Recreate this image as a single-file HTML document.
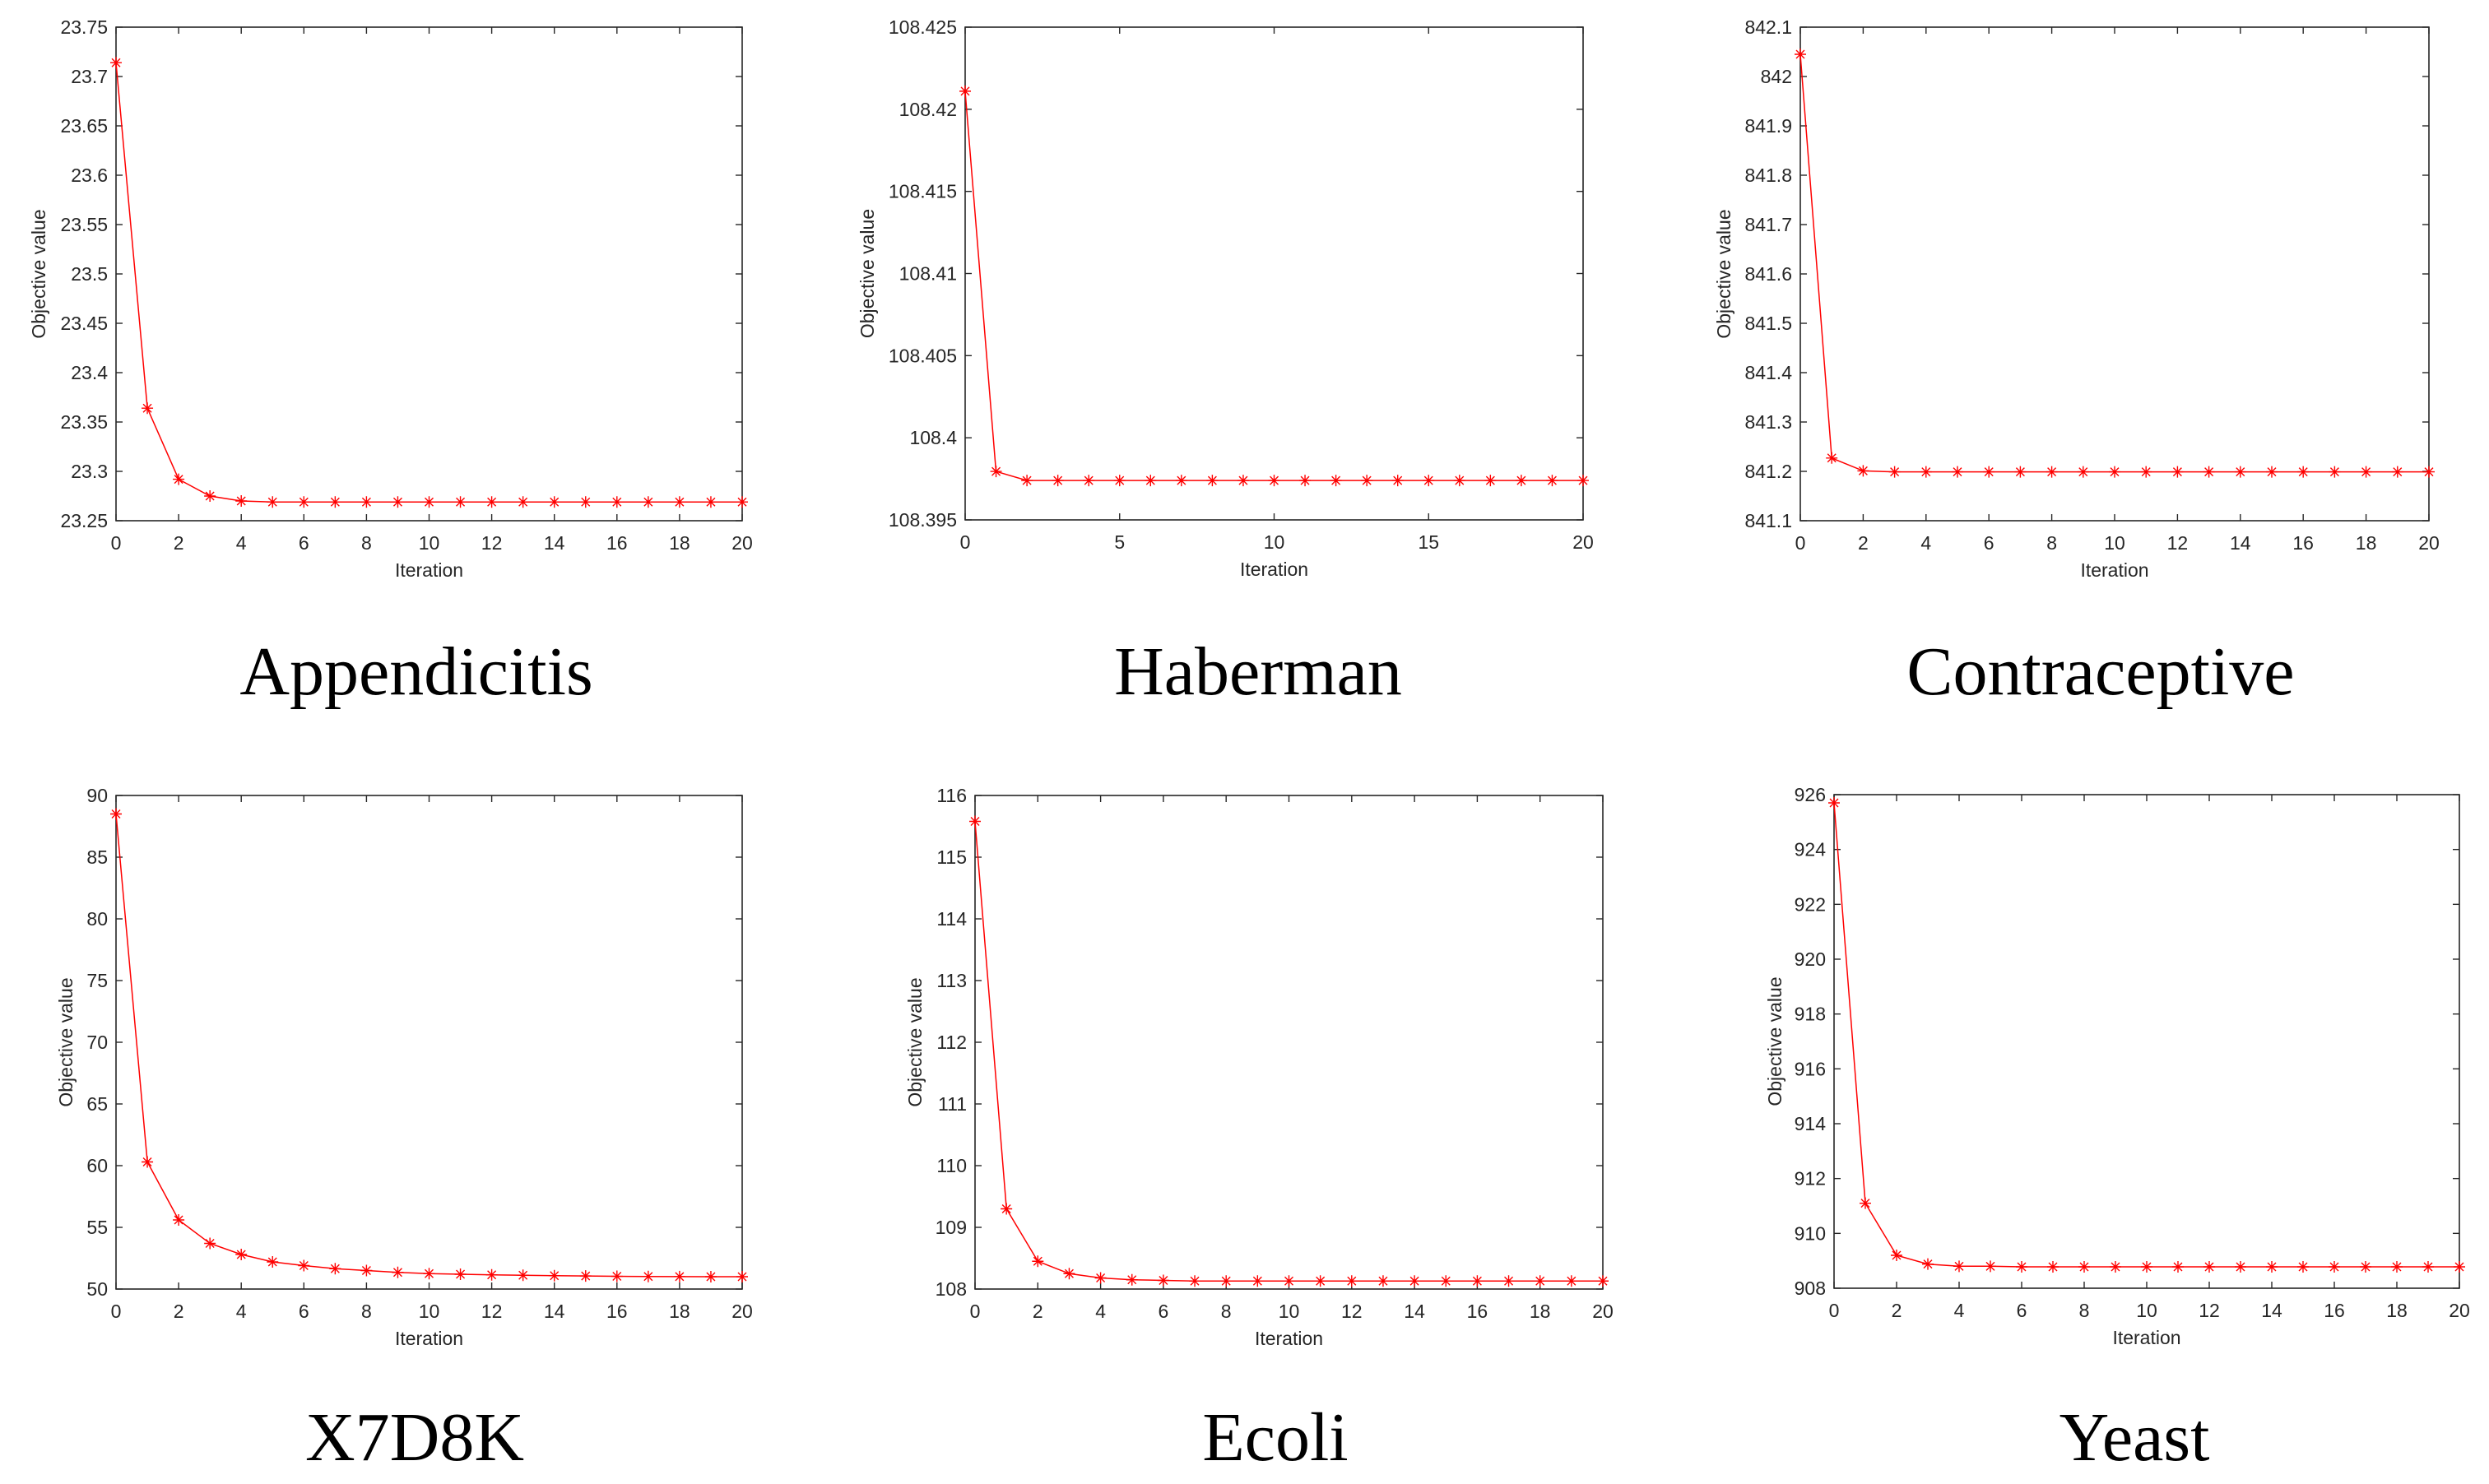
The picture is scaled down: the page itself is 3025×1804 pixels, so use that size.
<!DOCTYPE html>
<html><head><meta charset="utf-8"><style>
html,body{margin:0;padding:0;background:#fff;}
svg{display:block;}
.tk{font-family:"Liberation Sans",sans-serif;font-size:23px;fill:#262626;}
.ttl{font-family:"Liberation Serif",serif;font-size:84px;fill:#000;}
</style></head><body>
<svg id="fig" width="3025" height="1804" viewBox="0 0 3025 1804" xmlns="http://www.w3.org/2000/svg"></svg>
<script>
const iterations = [0,1,2,3,4,5,6,7,8,9,10,11,12,13,14,15,16,17,18,19,20];
const appendicitisValues = [23.714,23.364,23.292,23.275,23.270,23.269,23.269,23.269,23.269,23.269,23.269,23.269,23.269,23.269,23.269,23.269,23.269,23.269,23.269,23.269,23.269];
const habermanValues = [108.4211,108.39795,108.3974,108.3974,108.3974,108.3974,108.3974,108.3974,108.3974,108.3974,108.3974,108.3974,108.3974,108.3974,108.3974,108.3974,108.3974,108.3974,108.3974,108.3974,108.3974];
const contraceptiveValues = [842.045,841.227,841.201,841.199,841.199,841.199,841.199,841.199,841.199,841.199,841.199,841.199,841.199,841.199,841.199,841.199,841.199,841.199,841.199,841.199,841.199];
const x7d8kValues = [88.5,60.3,55.6,53.7,52.8,52.2,51.9,51.65,51.5,51.35,51.25,51.2,51.15,51.12,51.08,51.06,51.03,51.02,51.01,51.0,51.0];
const ecoliValues = [115.58,109.3,108.45,108.25,108.18,108.15,108.14,108.13,108.13,108.13,108.13,108.13,108.13,108.13,108.13,108.13,108.13,108.13,108.13,108.13,108.13];
const yeastValues = [925.7,911.1,909.2,908.88,908.8,908.8,908.78,908.78,908.78,908.78,908.78,908.78,908.78,908.78,908.78,908.78,908.78,908.78,908.78,908.78,908.78];
const appendicitisYTicks = ["23.25","23.3","23.35","23.4","23.45","23.5","23.55","23.6","23.65","23.7","23.75"];
const habermanYTicks = ["108.395","108.4","108.405","108.41","108.415","108.42","108.425"];
const contraceptiveYTicks = ["841.1","841.2","841.3","841.4","841.5","841.6","841.7","841.8","841.9","842","842.1"];
const x7d8kYTicks = ["50","55","60","65","70","75","80","85","90"];
const ecoliYTicks = ["108","109","110","111","112","113","114","115","116"];
const yeastYTicks = ["908","910","912","914","916","918","920","922","924","926"];
const xTicksEven = ["0","2","4","6","8","10","12","14","16","18","20"];
const xTicksFive = ["0","5","10","15","20"];
const titles = ["Appendicitis","Haberman","Contraceptive","X7D8K","Ecoli","Yeast"];

const NS = "http://www.w3.org/2000/svg";
const svg = document.getElementById('fig');
function mk(tag, attrs, parent){const e=document.createElementNS(NS,tag);for(const k in attrs)e.setAttribute(k,attrs[k]);(parent||svg).appendChild(e);return e;}

const panels = [
 {id:'appendicitis',L:141,R:902,T:33,B:633,vals:appendicitisValues,yt:appendicitisYTicks,xt:xTicksEven,ylx:47,tx:506,ty:844},
 {id:'haberman',L:1173,R:1924,T:33,B:632,vals:habermanValues,yt:habermanYTicks,xt:xTicksFive,ylx:1054,tx:1529,ty:844},
 {id:'contraceptive',L:2188,R:2952,T:33,B:633,vals:contraceptiveValues,yt:contraceptiveYTicks,xt:xTicksEven,ylx:2095,tx:2553,ty:844},
 {id:'x7d8k',L:141,R:902,T:967,B:1567,vals:x7d8kValues,yt:x7d8kYTicks,xt:xTicksEven,ylx:80,tx:504,ty:1775},
 {id:'ecoli',L:1185,R:1948,T:967,B:1567,vals:ecoliValues,yt:ecoliYTicks,xt:xTicksEven,ylx:1112,tx:1550,ty:1775},
 {id:'yeast',L:2229,R:2989,T:966,B:1566,vals:yeastValues,yt:yeastYTicks,xt:xTicksEven,ylx:2157,tx:2594,ty:1775}
];

panels.forEach((p,pi)=>{
  const g = mk('g',{});
  
  
  const ymin=parseFloat(p.yt[0]), ymax=parseFloat(p.yt[p.yt.length-1]);
  const xmin=parseFloat(p.xt[0]), xmax=parseFloat(p.xt[p.xt.length-1]);
  const sx=v=>p.L+(v-xmin)/(xmax-xmin)*(p.R-p.L);
  const sy=v=>p.B-(v-ymin)/(ymax-ymin)*(p.B-p.T);
  const frame = mk('rect',{x:p.L,y:p.T,width:p.R-p.L,height:p.B-p.T,fill:'none',stroke:'#262626','stroke-width':1.6},g);
  
  
  p.yt.forEach(t=>{
    const y=sy(parseFloat(t));
    mk('line',{x1:p.L,y1:y,x2:p.L+8,y2:y,stroke:'#262626','stroke-width':1.4},g);
    mk('line',{x1:p.R,y1:y,x2:p.R-8,y2:y,stroke:'#262626','stroke-width':1.4},g);
    const tx=mk('text',{x:p.L-10,y:y+8,'text-anchor':'end',class:'tk'},g);
    tx.textContent=t;
    
    
  });
  p.xt.forEach(t=>{
    const x=sx(parseFloat(t));
    mk('line',{x1:x,y1:p.B,x2:x,y2:p.B-8,stroke:'#262626','stroke-width':1.4},g);
    mk('line',{x1:x,y1:p.T,x2:x,y2:p.T+8,stroke:'#262626','stroke-width':1.4},g);
    const tx=mk('text',{x:x,y:p.B+35,'text-anchor':'middle',class:'tk'},g);
    tx.textContent=t;
    
    
  });
  const xl=mk('text',{x:(p.L+p.R)/2,y:p.B+68,'text-anchor':'middle',class:'tk'},g);
  xl.textContent='Iteration';
  
  
  const cy=(p.T+p.B)/2;
  const yl=mk('text',{x:p.ylx,y:cy,'text-anchor':'middle',class:'tk',transform:'rotate(-90 '+p.ylx+' '+cy+')',dy:'8'},g);
  yl.textContent='Objective value';
  
  
  const pts=p.vals.map((v,i)=>sx(iterations[i]).toFixed(1)+','+sy(v).toFixed(1)).join(' ');
  const line=mk('polyline',{points:pts,fill:'none',stroke:'#ff0000','stroke-width':1.5},g);
  
  
  p.vals.forEach((v,i)=>{
    const x=sx(iterations[i]), y=sy(v), r=7, d=5;
    const m=mk('path',{d:`M${x-r},${y}H${x+r}M${x},${y-r}V${y+r}M${x-d},${y-d}L${x+d},${y+d}M${x-d},${y+d}L${x+d},${y-d}`,stroke:'#ff0000','stroke-width':1.4,fill:'none'},g);
    
    
  });
  const t=mk('text',{x:p.tx,y:p.ty,'text-anchor':'middle',class:'ttl'},g);
  t.textContent=titles[pi];
  
  
});
</script>
</body></html>
